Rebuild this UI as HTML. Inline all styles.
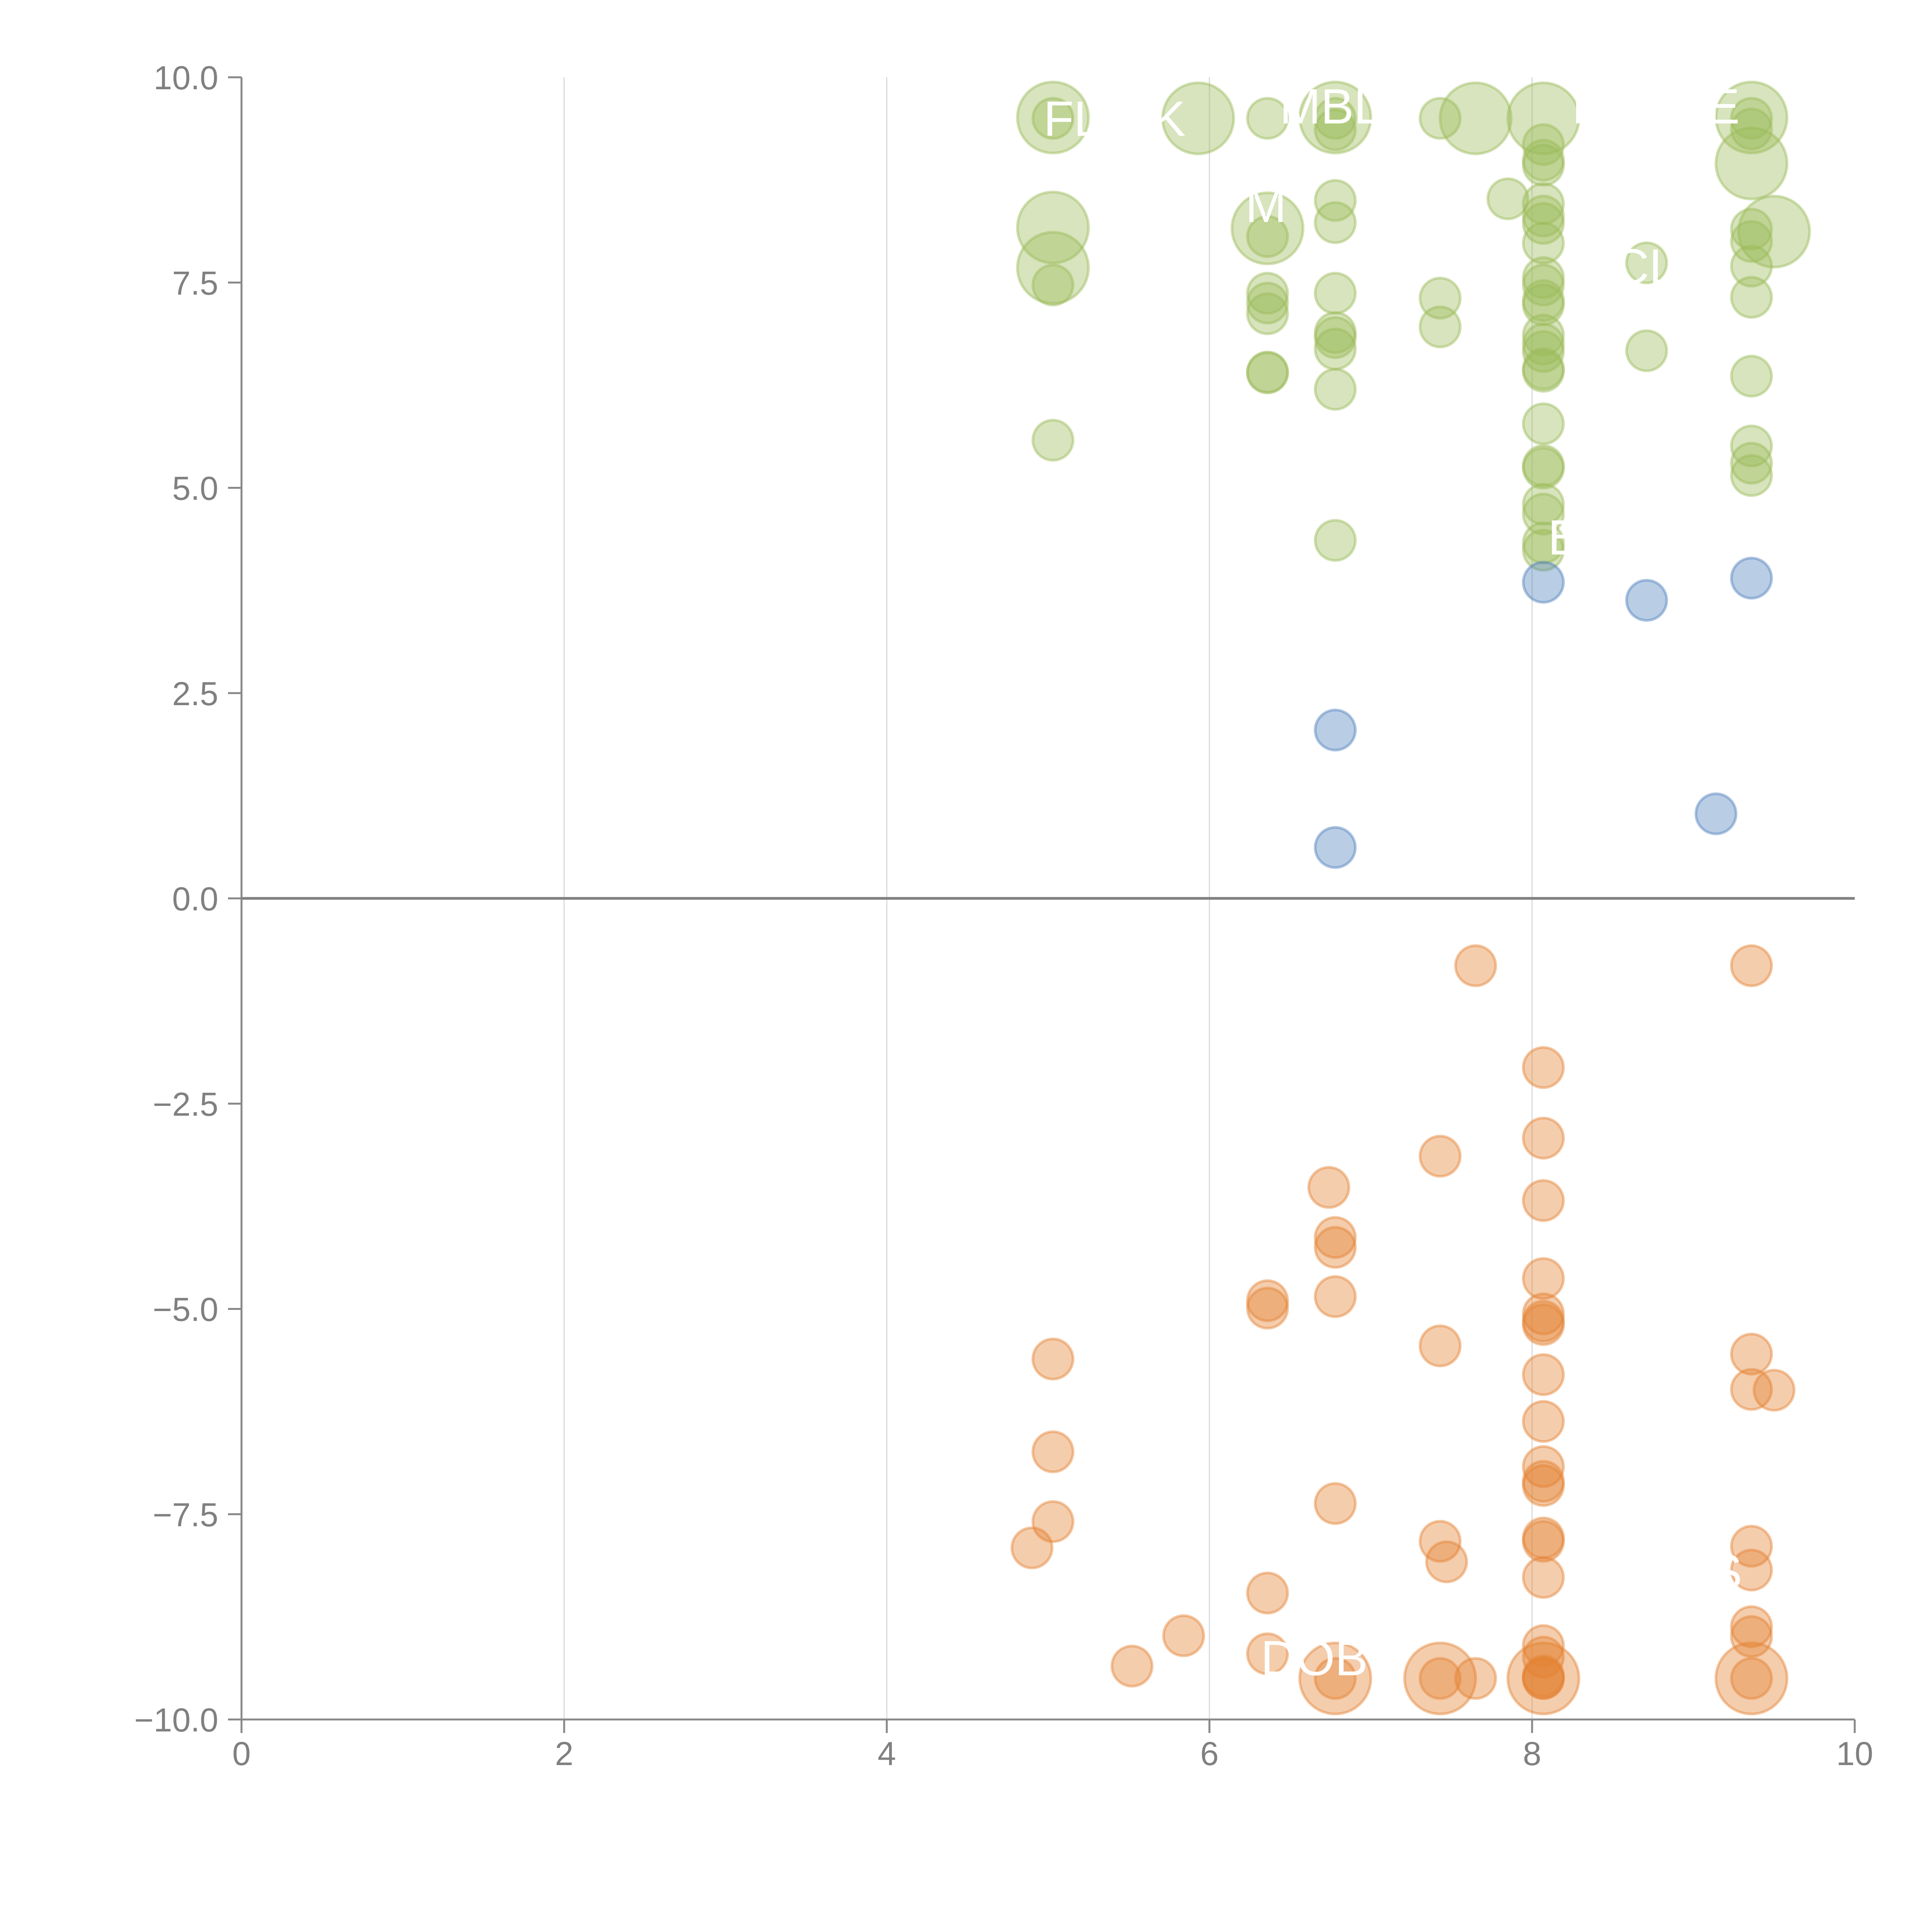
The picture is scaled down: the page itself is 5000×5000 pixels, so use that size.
<!DOCTYPE html>
<html><head><meta charset="utf-8"><style>
html,body{margin:0;padding:0;background:#fff;}
svg{display:block;}
text{font-family:"Liberation Sans",sans-serif;}
</style></head><body>
<svg id="chart" width="5000" height="5000" viewBox="0 0 5000 5000" xmlns="http://www.w3.org/2000/svg">
<g id="grid"></g>
<g id="axes"></g>
<g id="marks"></g>
<g id="labels"></g>
</svg>
<script>
const xTicks=[0,2,4,6,8,10];
const yTicks=[10,7.5,5,2.5,0,-2.5,-5,-7.5,-10];
const yTickLabels=["10.0","7.5","5.0","2.5","0.0","\u22122.5","\u22125.0","\u22127.5","\u221210.0"];
// green series: x, y, size (1 small, 2 large)
const greenX=[5.03,5.03,5.03,5.03,5.03,5.03,5.93,6.36,6.36,6.36,6.36,6.36,6.36,6.36,6.36,6.78,6.78,6.78,6.78,6.78,6.78,6.78,6.78,6.78,6.78,6.78,7.43,7.43,7.43,7.65,7.85,
8.07,8.07,8.07,8.07,8.07,8.07,8.07,8.07,8.07,8.07,8.07,8.07,8.07,8.07,8.07,8.07,8.07,8.07,8.07,8.07,8.07,8.07,8.07,8.07,8.71,8.71,
9.36,9.36,9.36,9.36,9.36,9.36,9.36,9.36,9.36,9.36,9.36,9.36,9.5];
const greenY=[9.51,9.5,8.17,7.68,7.47,5.58,9.5,9.5,8.16,8.06,7.37,7.25,7.12,6.41,6.4,9.51,9.5,9.36,8.5,8.23,7.37,6.89,6.83,6.69,6.2,4.36,9.5,7.31,6.96,9.5,8.52,
9.5,9.18,8.99,8.93,8.46,8.31,8.22,7.98,7.56,7.47,7.28,7.23,6.86,6.75,6.66,6.45,6.42,5.78,5.27,5.24,4.8,4.68,4.33,4.24,7.74,6.67,
9.51,9.5,9.37,8.95,8.15,8.0,7.7,7.32,6.36,5.51,5.3,5.15,8.12];
const greenS=[2,1,2,2,1,1,2,1,2,1,1,1,1,1,1,2,1,1,1,1,1,1,1,1,1,1,1,1,1,2,1,
2,1,1,1,1,1,1,1,1,1,1,1,1,1,1,1,1,1,1,1,1,1,1,1,1,1,
2,1,1,2,1,1,1,1,1,1,1,1,2];
const blueX=[8.07,8.71,9.36,6.78,6.78,9.14];
const blueY=[3.85,3.63,3.9,2.05,0.62,1.03];
const orangeX=[7.65,9.36,8.07,8.07,7.43,6.74,8.07,6.78,6.78,8.07,6.36,6.36,6.78,8.07,8.07,8.07,7.43,9.36,5.03,8.07,9.36,9.5,8.07,5.03,8.07,8.07,8.07,6.78,5.03,7.43,8.07,8.07,4.9,9.36,7.47,9.36,8.07,6.36,9.36,9.36,5.84,8.07,8.07,6.36,5.52,8.07,
6.78,6.78,7.43,7.43,7.65,8.07,8.07,8.07,9.36,9.36];
const orangeY=[-0.82,-0.82,-2.06,-2.92,-3.14,-3.52,-3.68,-4.13,-4.25,-4.63,-4.9,-4.99,-4.85,-5.06,-5.15,-5.19,-5.45,-5.55,-5.61,-5.8,-5.98,-5.99,-6.37,-6.74,-6.92,-7.1,-7.15,-7.37,-7.59,-7.83,-7.79,-7.83,-7.91,-7.89,-8.08,-8.18,-8.27,-8.46,-8.87,-8.99,-8.98,-9.1,-9.24,-9.2,-9.35,-9.47,
-9.5,-9.5,-9.5,-9.5,-9.5,-9.5,-9.5,-9.5,-9.5,-9.5];
const orangeS=[1,1,1,1,1,1,1,1,1,1,1,1,1,1,1,1,1,1,1,1,1,1,1,1,1,1,1,1,1,1,1,1,1,1,1,1,1,1,1,1,1,1,1,1,1,1,
2,1,2,1,1,2,1,1,2,1];
const labelText=["FL","K","MBL","P","LE","M","CL","B","DOB","C","S"];
const labelX=[5.15,5.75,6.75,8.35,9.1,6.35,8.7,8.2,6.65,8.3,9.2];
const labelY=[9.5,9.5,9.65,9.65,9.65,8.45,7.7,4.4,-9.25,-8.05,-8.2];

const X0=625,X1=4800,Y0=4450,Y1=200;
function sx(v){return X0+(v-0)/(10-0)*(X1-X0);}
function sy(v){return Y0-(v+10)/20*(Y0-Y1);}
const NS="http://www.w3.org/2000/svg";
function mk(tag,attrs,parent){const e=document.createElementNS(NS,tag);for(const k in attrs)e.setAttribute(k,attrs[k]);parent.appendChild(e);return e;}
const grid=document.getElementById('grid'),axes=document.getElementById('axes'),marks=document.getElementById('marks'),labels=document.getElementById('labels');
xTicks.forEach(t=>{
 if(t>0&&t<10){const l=mk('line',{x1:sx(t),x2:sx(t),y1:Y1,y2:Y0,stroke:'#d9d9d9','stroke-width':3},grid);
 
 }
 const tk=mk('line',{x1:sx(t),x2:sx(t),y1:Y0,y2:Y0+35,stroke:'#888','stroke-width':5},axes);
 
 
 const tx=mk('text',{x:sx(t),y:4568,'font-size':86,fill:'#808080','text-anchor':'middle'},axes);
 tx.textContent=t;
 
 
});
yTicks.forEach((t,i)=>{
 const tk=mk('line',{x1:X0-35,x2:X0,y1:sy(t),y2:sy(t),stroke:'#888','stroke-width':5},axes);
 
 
 const tx=mk('text',{x:565,y:sy(t)+31,'font-size':86,fill:'#808080','text-anchor':'end'},axes);
 tx.textContent=yTickLabels[i];
 
 
});
const ya=mk('line',{x1:X0,x2:X0,y1:Y1,y2:Y0,stroke:'#888','stroke-width':5},axes);


const xa=mk('line',{x1:X0,x2:X1,y1:Y0,y2:Y0,stroke:'#888','stroke-width':5},axes);


const zl=mk('line',{x1:X0,x2:X1,y1:sy(0),y2:sy(0),stroke:'#808080','stroke-width':7},axes);


function radius(s){return s===2?92:52;}
function series(xs,ys,ss,fill,stroke,name){
 xs.forEach((x,i)=>{
  const c=mk('circle',{cx:sx(x),cy:sy(ys[i]),r:radius(ss?ss[i]:1),fill:fill,stroke:stroke,'stroke-width':7},marks);
  
  
 });
}
series(greenX,greenY,greenS,'rgba(155,187,89,0.4)','rgba(155,187,89,0.45)','green');
series(blueX,blueY,null,'rgba(79,129,189,0.4)','rgba(79,129,189,0.45)','blue');
series(orangeX,orangeY,orangeS,'rgba(228,131,51,0.4)','rgba(228,131,51,0.45)','orange');
labelText.forEach((t,i)=>{
 const tx=mk('text',{x:sx(labelX[i]),y:sy(labelY[i])+45,'font-size':128,fill:'#fff','text-anchor':'middle'},labels);
 tx.textContent=t;
 
 
});
</script>
</body></html>
